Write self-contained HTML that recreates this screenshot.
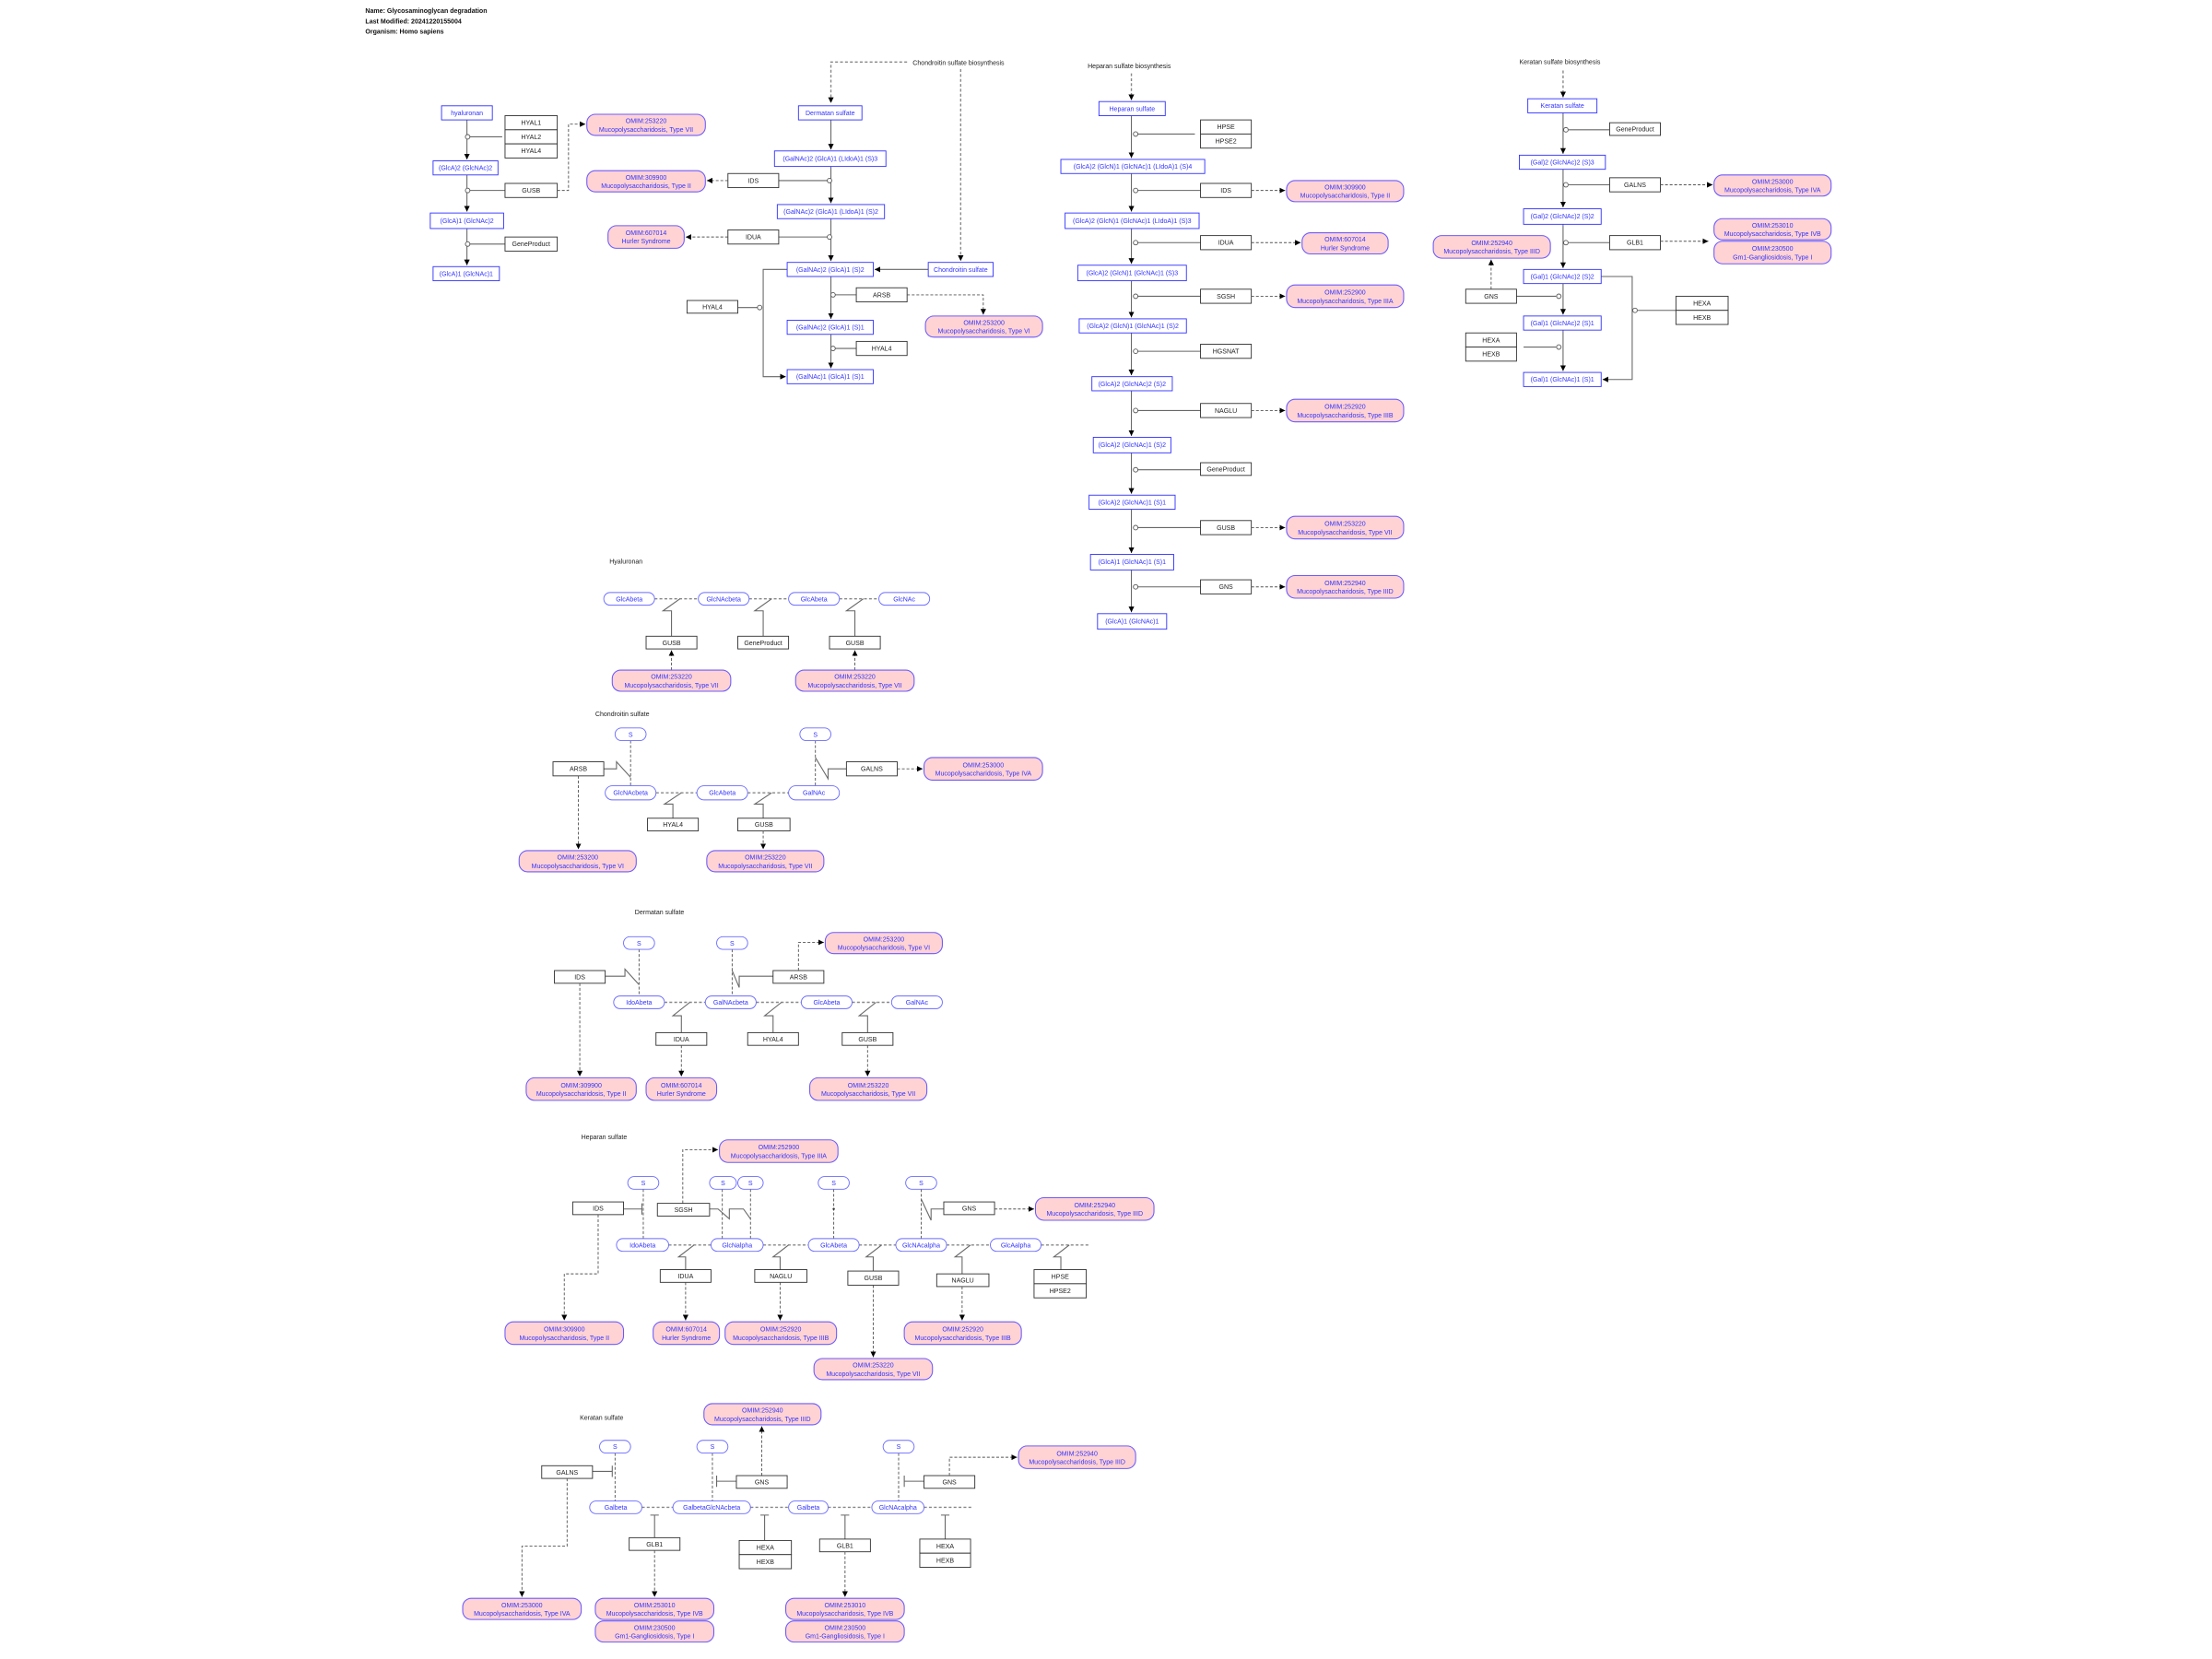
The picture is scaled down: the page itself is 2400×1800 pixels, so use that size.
<!DOCTYPE html>
<html><head><meta charset="utf-8"><style>
html,body{margin:0;padding:0;background:#fff}
svg{display:block}
text{font-family:"Liberation Sans",sans-serif;font-size:4.6px;text-anchor:middle}
.g{fill:#fff;stroke:#333;stroke-width:0.6}
.m{fill:#fff;stroke:#3333ff;stroke-width:0.6}
.d{fill:#ffd3d3;stroke:#6b5bff;stroke-width:0.7}
.p{fill:#fff;stroke:#6b6bff;stroke-width:0.6}
.tg{fill:#222}
.tb{fill:#3333ff}
.l{stroke:#666;stroke-width:0.7;fill:none}
.dl{stroke:#555;stroke-width:0.6;fill:none;stroke-dasharray:2,1.3}
.dd{stroke:#888;stroke-width:0.9;fill:none;stroke-dasharray:2,1.5}
.c{fill:#fff;stroke:#555;stroke-width:0.6}
.h{font-weight:bold;text-anchor:start;fill:#111;font-size:4.6px}
.lab{text-anchor:start;fill:#222}
</style></head><body>
<svg width="2400" height="1800" viewBox="0 0 1568 1176" preserveAspectRatio="none" xmlns="http://www.w3.org/2000/svg">
<defs>
<marker id="a" markerWidth="4" markerHeight="4" refX="4" refY="2" orient="auto" markerUnits="userSpaceOnUse"><path d="M0,0L4,2L0,4z" fill="#000"/></marker>
</defs>
<text class="h" x="259" y="9">Name: Glycosaminoglycan degradation</text>
<text class="h" x="259" y="16.5">Last Modified: 20241220155004</text>
<text class="h" x="259" y="24">Organism: Homo sapiens</text>

<!-- Panel 1 hyaluronan -->
<path class="l" d="M331,85V113" marker-end="url(#a)"/><path class="l" d="M331,124V150" marker-end="url(#a)"/><path class="l" d="M331,162V188" marker-end="url(#a)"/>
<path class="l" d="M333,97H356M333,135H358M333,173H358"/>
<circle class="c" cx="331.5" cy="97" r="1.6"/><circle class="c" cx="331.5" cy="135" r="1.6"/><circle class="c" cx="331.5" cy="173" r="1.6"/>
<rect class="m" x="313" y="75" width="36" height="10"/><text class="tb" x="331" y="81.6">hyaluronan</text>
<rect class="g" x="358" y="82" width="37" height="10"/><text class="tg" x="376.5" y="88.6">HYAL1</text>
<rect class="g" x="358" y="92" width="37" height="10"/><text class="tg" x="376.5" y="98.6">HYAL2</text>
<rect class="g" x="358" y="102" width="37" height="10"/><text class="tg" x="376.5" y="108.6">HYAL4</text>
<rect class="m" x="307" y="114" width="46" height="10"/><text class="tb" x="330" y="120.6">(GlcA)2 (GlcNAc)2</text>
<rect class="g" x="358" y="130" width="37" height="10"/><text class="tg" x="376.5" y="136.6">GUSB</text>
<rect class="m" x="305" y="151" width="52" height="11"/><text class="tb" x="331" y="158">(GlcA)1 (GlcNAc)2</text>
<rect class="g" x="358" y="168" width="37" height="10"/><text class="tg" x="376.5" y="174.6">GeneProduct</text>
<rect class="m" x="307" y="189" width="47" height="10"/><text class="tb" x="330.5" y="195.6">(GlcA)1 (GlcNAc)1</text>
<path class="dl" d="M395,135H403V88H415" marker-end="url(#a)"/>
<rect class="d" x="416" y="81" width="84" height="15" rx="6"/><text class="tb" x="458" y="87.3">OMIM:253220</text><text class="tb" x="458" y="93.3">Mucopolysaccharidosis, Type VII</text>
<rect class="d" x="416" y="121" width="84" height="15" rx="6"/><text class="tb" x="458" y="127.3">OMIM:309900</text><text class="tb" x="458" y="133.3">Mucopolysaccharidosis, Type II</text>
<rect class="d" x="431" y="160" width="54" height="16" rx="6"/><text class="tb" x="458" y="166.5">OMIM:607014</text><text class="tb" x="458" y="172.5">Hurler Syndrome</text>

<!-- Panel 2 dermatan -->
<text class="lab" x="647" y="46">Chondroitin sulfate biosynthesis</text>
<path class="dd" d="M643,44H589V73" marker-end="url(#a)"/>
<path class="dd" d="M681,49V185" marker-end="url(#a)"/>
<path class="l" d="M589,85V106" marker-end="url(#a)"/><path class="l" d="M589,118V144" marker-end="url(#a)"/><path class="l" d="M589,155V185" marker-end="url(#a)"/><path class="l" d="M589,196V226" marker-end="url(#a)"/><path class="l" d="M589,237V261" marker-end="url(#a)"/>
<path class="l" d="M658,191H620" marker-end="url(#a)"/>
<path class="l" d="M558,191H541V267H557" marker-end="url(#a)"/>
<path class="l" d="M552,128H587M552,168H587M592,209H607M592,247H607M523,218H537"/>
<circle class="c" cx="588" cy="128" r="1.6"/><circle class="c" cx="588" cy="168" r="1.6"/><circle class="c" cx="590.5" cy="209" r="1.6"/><circle class="c" cx="590.5" cy="247" r="1.6"/><circle class="c" cx="538.5" cy="218" r="1.6"/>
<rect class="m" x="566" y="75" width="45" height="10"/><text class="tb" x="588.5" y="81.6">Dermatan sulfate</text>
<rect class="m" x="549" y="107" width="79" height="11"/><text class="tb" x="588.5" y="114">(GalNAc)2 (GlcA)1 (LIdoA)1 (S)3</text>
<rect class="g" x="516" y="123" width="36" height="10"/><text class="tg" x="534" y="129.6">IDS</text>
<rect class="m" x="551" y="145" width="76" height="10"/><text class="tb" x="589" y="151.6">(GalNAc)2 (GlcA)1 (LIdoA)1 (S)2</text>
<rect class="g" x="516" y="163" width="36" height="10"/><text class="tg" x="534" y="169.6">IDUA</text>
<rect class="m" x="558" y="186" width="61" height="10"/><text class="tb" x="588.5" y="192.6">(GalNAc)2 (GlcA)1 (S)2</text>
<rect class="m" x="658" y="186" width="46" height="10"/><text class="tb" x="681" y="192.6">Chondroitin sulfate</text>
<rect class="g" x="607" y="204" width="36" height="10"/><text class="tg" x="625" y="210.6">ARSB</text>
<rect class="g" x="487" y="213" width="36" height="9"/><text class="tg" x="505" y="219.2">HYAL4</text>
<rect class="m" x="558" y="227" width="61" height="10"/><text class="tb" x="588.5" y="233.6">(GalNAc)2 (GlcA)1 (S)1</text>
<rect class="g" x="607" y="242" width="36" height="10"/><text class="tg" x="625" y="248.6">HYAL4</text>
<rect class="m" x="558" y="262" width="61" height="10"/><text class="tb" x="588.5" y="268.6">(GalNAc)1 (GlcA)1 (S)1</text>
<path class="dl" d="M516,128H501" marker-end="url(#a)"/><path class="dl" d="M516,168H486" marker-end="url(#a)"/>
<path class="dl" d="M643,209H697V223" marker-end="url(#a)"/>
<rect class="d" x="656" y="224" width="83" height="15" rx="6"/><text class="tb" x="697.5" y="230.3">OMIM:253200</text><text class="tb" x="697.5" y="236.3">Mucopolysaccharidosis, Type VI</text>

<!-- Panel 3 heparan -->
<text class="lab" x="771" y="48.5">Heparan sulfate biosynthesis</text>
<path class="dd" d="M802,52V71" marker-end="url(#a)"/>
<path class="l" d="M802,82V112" marker-end="url(#a)"/><path class="l" d="M802,123V150" marker-end="url(#a)"/><path class="l" d="M802,162V187" marker-end="url(#a)"/><path class="l" d="M802,199V225" marker-end="url(#a)"/><path class="l" d="M802,236V266" marker-end="url(#a)"/><path class="l" d="M802,277V309" marker-end="url(#a)"/><path class="l" d="M802,321V350" marker-end="url(#a)"/><path class="l" d="M802,361V392" marker-end="url(#a)"/><path class="l" d="M802,404V434" marker-end="url(#a)"/>
<path class="l" d="M806,95H847M806,135H851M806,172H851M806,210H851M806,249H851M806,291H851M806,333H851M806,374H851M806,416H851"/>
<circle class="c" cx="805" cy="95" r="1.6"/><circle class="c" cx="805" cy="135" r="1.6"/><circle class="c" cx="805" cy="172" r="1.6"/><circle class="c" cx="805" cy="210" r="1.6"/><circle class="c" cx="805" cy="249" r="1.6"/><circle class="c" cx="805" cy="291" r="1.6"/><circle class="c" cx="805" cy="333" r="1.6"/><circle class="c" cx="805" cy="374" r="1.6"/><circle class="c" cx="805" cy="416" r="1.6"/>
<rect class="m" x="779" y="72" width="47" height="10"/><text class="tb" x="802.5" y="78.6">Heparan sulfate</text>
<rect class="g" x="851" y="85" width="36" height="10"/><text class="tg" x="869" y="91.6">HPSE</text>
<rect class="g" x="851" y="95" width="36" height="10"/><text class="tg" x="869" y="101.6">HPSE2</text>
<rect class="m" x="752" y="113" width="102" height="10"/><text class="tb" x="803" y="119.6">(GlcA)2 (GlcN)1 (GlcNAc)1 (LIdoA)1 (S)4</text>
<rect class="g" x="851" y="130" width="36" height="10"/><text class="tg" x="869" y="136.6">IDS</text>
<rect class="m" x="755" y="151" width="95" height="11"/><text class="tb" x="802.5" y="158">(GlcA)2 (GlcN)1 (GlcNAc)1 (LIdoA)1 (S)3</text>
<rect class="g" x="851" y="167" width="36" height="10"/><text class="tg" x="869" y="173.6">IDUA</text>
<rect class="m" x="764" y="188" width="77" height="11"/><text class="tb" x="802.5" y="195">(GlcA)2 (GlcN)1 (GlcNAc)1 (S)3</text>
<rect class="g" x="851" y="205" width="36" height="10"/><text class="tg" x="869" y="211.6">SGSH</text>
<rect class="m" x="765" y="226" width="76" height="10"/><text class="tb" x="803" y="232.6">(GlcA)2 (GlcN)1 (GlcNAc)1 (S)2</text>
<rect class="g" x="851" y="244" width="36" height="10"/><text class="tg" x="869" y="250.6">HGSNAT</text>
<rect class="m" x="774" y="267" width="57" height="10"/><text class="tb" x="802.5" y="273.6">(GlcA)2 (GlcNAc)2 (S)2</text>
<rect class="g" x="851" y="286" width="36" height="10"/><text class="tg" x="869" y="292.6">NAGLU</text>
<rect class="m" x="775" y="310" width="55" height="11"/><text class="tb" x="802.5" y="317">(GlcA)2 (GlcNAc)1 (S)2</text>
<rect class="g" x="851" y="328" width="36" height="9"/><text class="tg" x="869" y="334.2">GeneProduct</text>
<rect class="m" x="772" y="351" width="61" height="10"/><text class="tb" x="802.5" y="357.6">(GlcA)2 (GlcNAc)1 (S)1</text>
<rect class="g" x="851" y="369" width="36" height="10"/><text class="tg" x="869" y="375.6">GUSB</text>
<rect class="m" x="773" y="393" width="59" height="11"/><text class="tb" x="802.5" y="400">(GlcA)1 (GlcNAc)1 (S)1</text>
<rect class="g" x="851" y="411" width="36" height="10"/><text class="tg" x="869" y="417.6">GNS</text>
<rect class="m" x="778" y="435" width="49" height="11"/><text class="tb" x="802.5" y="442">(GlcA)1 (GlcNAc)1</text>
<path class="dl" d="M887,135H911" marker-end="url(#a)"/><path class="dl" d="M887,172H922" marker-end="url(#a)"/><path class="dl" d="M887,210H911" marker-end="url(#a)"/><path class="dl" d="M887,291H911" marker-end="url(#a)"/><path class="dl" d="M887,374H911" marker-end="url(#a)"/><path class="dl" d="M887,416H911" marker-end="url(#a)"/>
<rect class="d" x="912" y="128" width="83" height="15" rx="6"/><text class="tb" x="953.5" y="134.3">OMIM:309900</text><text class="tb" x="953.5" y="140.3">Mucopolysaccharidosis, Type II</text>
<rect class="d" x="923" y="165" width="61" height="15" rx="6"/><text class="tb" x="953.5" y="171.3">OMIM:607014</text><text class="tb" x="953.5" y="177.3">Hurler Syndrome</text>
<rect class="d" x="912" y="202" width="83" height="16" rx="6"/><text class="tb" x="953.5" y="208.8">OMIM:252900</text><text class="tb" x="953.5" y="214.8">Mucopolysaccharidosis, Type IIIA</text>
<rect class="d" x="912" y="283" width="83" height="16" rx="6"/><text class="tb" x="953.5" y="289.8">OMIM:252920</text><text class="tb" x="953.5" y="295.8">Mucopolysaccharidosis, Type IIIB</text>
<rect class="d" x="912" y="366" width="83" height="16" rx="6"/><text class="tb" x="953.5" y="372.8">OMIM:253220</text><text class="tb" x="953.5" y="378.8">Mucopolysaccharidosis, Type VII</text>
<rect class="d" x="912" y="408" width="83" height="16" rx="6"/><text class="tb" x="953.5" y="414.8">OMIM:252940</text><text class="tb" x="953.5" y="420.8">Mucopolysaccharidosis, Type IIID</text>

<!-- Panel 4 keratan -->
<text class="lab" x="1077" y="45.5">Keratan sulfate biosynthesis</text>
<path class="dd" d="M1108,50V69" marker-end="url(#a)"/>
<path class="l" d="M1108,80V109" marker-end="url(#a)"/><path class="l" d="M1108,120V147" marker-end="url(#a)"/><path class="l" d="M1108,159V190" marker-end="url(#a)"/><path class="l" d="M1108,201V223" marker-end="url(#a)"/><path class="l" d="M1108,234V263" marker-end="url(#a)"/>
<path class="l" d="M1135,196H1157V269H1136" marker-end="url(#a)"/>
<path class="l" d="M1112,92H1141M1112,131H1141M1112,172H1141M1075,210H1103M1080,246H1103M1161,220H1188"/>
<circle class="c" cx="1110" cy="92" r="1.6"/><circle class="c" cx="1110" cy="131" r="1.6"/><circle class="c" cx="1110" cy="172" r="1.6"/><circle class="c" cx="1105" cy="210" r="1.6"/><circle class="c" cx="1105" cy="246" r="1.6"/><circle class="c" cx="1159" cy="220" r="1.6"/>
<rect class="m" x="1083" y="70" width="49" height="10"/><text class="tb" x="1107.5" y="76.6">Keratan sulfate</text>
<rect class="g" x="1141" y="87" width="36" height="9"/><text class="tg" x="1159" y="93.2">GeneProduct</text>
<rect class="m" x="1077" y="110" width="61" height="10"/><text class="tb" x="1107.5" y="116.6">(Gal)2 (GlcNAc)2 (S)3</text>
<rect class="g" x="1141" y="126" width="36" height="10"/><text class="tg" x="1159" y="132.6">GALNS</text>
<rect class="m" x="1080" y="148" width="55" height="11"/><text class="tb" x="1107.5" y="155">(Gal)2 (GlcNAc)2 (S)2</text>
<rect class="g" x="1141" y="167" width="36" height="10"/><text class="tg" x="1159" y="173.6">GLB1</text>
<rect class="m" x="1080" y="191" width="55" height="10"/><text class="tb" x="1107.5" y="197.6">(Gal)1 (GlcNAc)2 (S)2</text>
<rect class="g" x="1039" y="205" width="36" height="10"/><text class="tg" x="1057" y="211.6">GNS</text>
<rect class="g" x="1188" y="210" width="37" height="10"/><text class="tg" x="1206.5" y="216.6">HEXA</text>
<rect class="g" x="1188" y="220" width="37" height="10"/><text class="tg" x="1206.5" y="226.6">HEXB</text>
<rect class="m" x="1080" y="224" width="55" height="10"/><text class="tb" x="1107.5" y="230.6">(Gal)1 (GlcNAc)2 (S)1</text>
<rect class="g" x="1039" y="236" width="36" height="10"/><text class="tg" x="1057" y="242.6">HEXA</text>
<rect class="g" x="1039" y="246" width="36" height="10"/><text class="tg" x="1057" y="252.6">HEXB</text>
<rect class="m" x="1080" y="264" width="55" height="10"/><text class="tb" x="1107.5" y="270.6">(Gal)1 (GlcNAc)1 (S)1</text>
<path class="dl" d="M1177,131H1214" marker-end="url(#a)"/><path class="dl" d="M1177,171H1211" marker-end="url(#a)"/><path class="dl" d="M1057,205V184" marker-end="url(#a)"/>
<rect class="d" x="1215" y="124" width="83" height="15" rx="6"/><text class="tb" x="1256.5" y="130.3">OMIM:253000</text><text class="tb" x="1256.5" y="136.3">Mucopolysaccharidosis, Type IVA</text>
<rect class="d" x="1215" y="155" width="83" height="15" rx="6"/><text class="tb" x="1256.5" y="161.3">OMIM:253010</text><text class="tb" x="1256.5" y="167.3">Mucopolysaccharidosis, Type IVB</text>
<rect class="d" x="1215" y="171" width="83" height="16" rx="6"/><text class="tb" x="1256.5" y="177.8">OMIM:230500</text><text class="tb" x="1256.5" y="183.8">Gm1-Gangliosidosis, Type I</text>
<rect class="d" x="1016" y="167" width="83" height="16" rx="6"/><text class="tb" x="1057.5" y="173.8">OMIM:252940</text><text class="tb" x="1057.5" y="179.8">Mucopolysaccharidosis, Type IIID</text>

<!-- Hyaluronan lower -->
<text class="lab" x="432" y="399.5">Hyaluronan</text>
<path class="dd" d="M464,424.5H495M531,424.5H559M595,424.5H623"/>
<path class="l" d="M476,451V433H470L482,424.5M541,451V433H535L547,424.5M606,451V433H600L612,424.5"/>
<rect class="p" x="428" y="420" width="36" height="9" rx="4.5"/><text class="tb" x="446" y="426.2">GlcAbeta</text>
<rect class="p" x="495" y="420" width="36" height="9" rx="4.5"/><text class="tb" x="513" y="426.2">GlcNAcbeta</text>
<rect class="p" x="559" y="420" width="36" height="9" rx="4.5"/><text class="tb" x="577" y="426.2">GlcAbeta</text>
<rect class="p" x="623" y="420" width="36" height="9" rx="4.5"/><text class="tb" x="641" y="426.2">GlcNAc</text>
<rect class="g" x="458" y="451" width="36" height="9"/><text class="tg" x="476" y="457.2">GUSB</text>
<rect class="g" x="523" y="451" width="36" height="9"/><text class="tg" x="541" y="457.2">GeneProduct</text>
<rect class="g" x="588" y="451" width="36" height="9"/><text class="tg" x="606" y="457.2">GUSB</text>
<path class="dl" d="M476,475V461" marker-end="url(#a)"/><path class="dl" d="M606,475V461" marker-end="url(#a)"/>
<rect class="d" x="434" y="475" width="84" height="15" rx="6"/><text class="tb" x="476" y="481.3">OMIM:253220</text><text class="tb" x="476" y="487.3">Mucopolysaccharidosis, Type VII</text>
<rect class="d" x="564" y="475" width="84" height="15" rx="6"/><text class="tb" x="606" y="481.3">OMIM:253220</text><text class="tb" x="606" y="487.3">Mucopolysaccharidosis, Type VII</text>

<!-- Chondroitin lower -->
<text class="lab" x="422" y="507.5">Chondroitin sulfate</text>
<path class="dl" d="M447,525V557M578,525V557"/>
<path class="dd" d="M465,562H494M530,562H559"/>
<path class="l" d="M428,545H437V540L447,551M600,545H587V552L578,537M477,580V570H471L483,562M541,580V570H535L547,562"/>
<rect class="p" x="436" y="516" width="22" height="9" rx="4.5"/><text class="tb" x="447" y="522.2">S</text>
<rect class="p" x="567" y="516" width="22" height="9" rx="4.5"/><text class="tb" x="578" y="522.2">S</text>
<rect class="g" x="392" y="540" width="36" height="10"/><text class="tg" x="410" y="546.6">ARSB</text>
<rect class="g" x="600" y="540" width="36" height="10"/><text class="tg" x="618" y="546.6">GALNS</text>
<rect class="p" x="429" y="557" width="36" height="10" rx="5"/><text class="tb" x="447" y="563.6">GlcNAcbeta</text>
<rect class="p" x="494" y="557" width="36" height="10" rx="5"/><text class="tb" x="512" y="563.6">GlcAbeta</text>
<rect class="p" x="559" y="557" width="36" height="10" rx="5"/><text class="tb" x="577" y="563.6">GalNAc</text>
<rect class="g" x="459" y="580" width="36" height="9"/><text class="tg" x="477" y="586.2">HYAL4</text>
<rect class="g" x="523" y="580" width="37" height="9"/><text class="tg" x="541.5" y="586.2">GUSB</text>
<path class="dl" d="M636,545H654" marker-end="url(#a)"/><path class="dl" d="M410,550V602" marker-end="url(#a)"/><path class="dl" d="M541,589V602" marker-end="url(#a)"/>
<rect class="d" x="655" y="537" width="84" height="16" rx="6"/><text class="tb" x="697" y="543.8">OMIM:253000</text><text class="tb" x="697" y="549.8">Mucopolysaccharidosis, Type IVA</text>
<rect class="d" x="368" y="603" width="83" height="15" rx="6"/><text class="tb" x="409.5" y="609.3">OMIM:253200</text><text class="tb" x="409.5" y="615.3">Mucopolysaccharidosis, Type VI</text>
<rect class="d" x="501" y="603" width="83" height="15" rx="6"/><text class="tb" x="542.5" y="609.3">OMIM:253220</text><text class="tb" x="542.5" y="615.3">Mucopolysaccharidosis, Type VII</text>

<!-- Dermatan lower -->
<text class="lab" x="450" y="648">Dermatan sulfate</text>
<path class="dl" d="M453,673V706M519,673V706"/>
<path class="dd" d="M471,710.5H500M536,710.5H568M604,710.5H632"/>
<path class="l" d="M429,692H443V687L453,698M548,692H524V700L519,688M483,732V720H477L489,710.5M548,732V720H542L554,710.5M615,732V720H609L621,710.5"/>
<rect class="p" x="442" y="664" width="22" height="9" rx="4.5"/><text class="tb" x="453" y="670.2">S</text>
<rect class="p" x="508" y="664" width="22" height="9" rx="4.5"/><text class="tb" x="519" y="670.2">S</text>
<rect class="g" x="393" y="688" width="36" height="9"/><text class="tg" x="411" y="694.2">IDS</text>
<rect class="g" x="548" y="688" width="36" height="9"/><text class="tg" x="566" y="694.2">ARSB</text>
<path class="dl" d="M566,688V668H584" marker-end="url(#a)"/>
<rect class="d" x="585" y="661" width="83" height="15" rx="6"/><text class="tb" x="626.5" y="667.3">OMIM:253200</text><text class="tb" x="626.5" y="673.3">Mucopolysaccharidosis, Type VI</text>
<rect class="p" x="435" y="706" width="36" height="9" rx="4.5"/><text class="tb" x="453" y="712.2">IdoAbeta</text>
<rect class="p" x="500" y="706" width="36" height="9" rx="4.5"/><text class="tb" x="518" y="712.2">GalNAcbeta</text>
<rect class="p" x="568" y="706" width="36" height="9" rx="4.5"/><text class="tb" x="586" y="712.2">GlcAbeta</text>
<rect class="p" x="632" y="706" width="36" height="9" rx="4.5"/><text class="tb" x="650" y="712.2">GalNAc</text>
<rect class="g" x="465" y="732" width="36" height="9"/><text class="tg" x="483" y="738.2">IDUA</text>
<rect class="g" x="530" y="732" width="36" height="9"/><text class="tg" x="548" y="738.2">HYAL4</text>
<rect class="g" x="597" y="732" width="36" height="9"/><text class="tg" x="615" y="738.2">GUSB</text>
<path class="dl" d="M411,697V763" marker-end="url(#a)"/><path class="dl" d="M483,741V763" marker-end="url(#a)"/><path class="dl" d="M615,741V763" marker-end="url(#a)"/>
<rect class="d" x="373" y="764" width="78" height="16" rx="6"/><text class="tb" x="412" y="770.8">OMIM:309900</text><text class="tb" x="412" y="776.8">Mucopolysaccharidosis, Type II</text>
<rect class="d" x="458" y="764" width="50" height="16" rx="6"/><text class="tb" x="483" y="770.8">OMIM:607014</text><text class="tb" x="483" y="776.8">Hurler Syndrome</text>
<rect class="d" x="574" y="764" width="83" height="16" rx="6"/><text class="tb" x="615.5" y="770.8">OMIM:253220</text><text class="tb" x="615.5" y="776.8">Mucopolysaccharidosis, Type VII</text>

<!-- Heparan lower -->
<text class="lab" x="412" y="807.5">Heparan sulfate</text>
<path class="dl" d="M456,843V878M512,843V878M532,843V878M591,843V878M653,843V878"/>
<path class="dd" d="M474,882.5H504M541,882.5H573M609,882.5H635M671,882.5H702M738,882.5H772"/>
<path class="l" d="M442,857H455M455,853V861M503,857H509L517,864V857H527L532,864M669,857H660V865L653,850M486,900V891H481L492,882.5M553,900V891H548L559,882.5M619,901V891H614L625,882.5M682,903V891H677L688,882.5M752,900V891H747L758,882.5"/>
<circle cx="591" cy="857" r="0.8" fill="#333"/>
<rect class="d" x="510" y="808" width="84" height="16" rx="6"/><text class="tb" x="552" y="814.8">OMIM:252900</text><text class="tb" x="552" y="820.8">Mucopolysaccharidosis, Type IIIA</text>
<path class="dl" d="M484,853V815H509" marker-end="url(#a)"/>
<rect class="p" x="445" y="834" width="22" height="9" rx="4.5"/><text class="tb" x="456" y="840.2">S</text>
<rect class="p" x="503" y="834" width="19" height="9" rx="4.5"/><text class="tb" x="512.5" y="840.2">S</text>
<rect class="p" x="523" y="834" width="18" height="9" rx="4.5"/><text class="tb" x="532" y="840.2">S</text>
<rect class="p" x="580" y="834" width="22" height="9" rx="4.5"/><text class="tb" x="591" y="840.2">S</text>
<rect class="p" x="642" y="834" width="22" height="9" rx="4.5"/><text class="tb" x="653" y="840.2">S</text>
<rect class="g" x="406" y="852" width="36" height="9"/><text class="tg" x="424" y="858.2">IDS</text>
<rect class="g" x="466" y="853" width="37" height="9"/><text class="tg" x="484.5" y="859.2">SGSH</text>
<rect class="g" x="669" y="852" width="36" height="9"/><text class="tg" x="687" y="858.2">GNS</text>
<path class="dl" d="M705,857H733" marker-end="url(#a)"/>
<rect class="d" x="734" y="849" width="84" height="16" rx="6"/><text class="tb" x="776" y="855.8">OMIM:252940</text><text class="tb" x="776" y="861.8">Mucopolysaccharidosis, Type IIID</text>
<rect class="p" x="437" y="878" width="37" height="9" rx="4.5"/><text class="tb" x="455.5" y="884.2">IdoAbeta</text>
<rect class="p" x="504" y="878" width="37" height="9" rx="4.5"/><text class="tb" x="522.5" y="884.2">GlcNalpha</text>
<rect class="p" x="573" y="878" width="36" height="9" rx="4.5"/><text class="tb" x="591" y="884.2">GlcAbeta</text>
<rect class="p" x="635" y="878" width="36" height="9" rx="4.5"/><text class="tb" x="653" y="884.2">GlcNAcalpha</text>
<rect class="p" x="702" y="878" width="36" height="9" rx="4.5"/><text class="tb" x="720" y="884.2">GlcAalpha</text>
<rect class="g" x="468" y="900" width="36" height="9"/><text class="tg" x="486" y="906.2">IDUA</text>
<rect class="g" x="535" y="900" width="37" height="9"/><text class="tg" x="553.5" y="906.2">NAGLU</text>
<rect class="g" x="601" y="901" width="36" height="10"/><text class="tg" x="619" y="907.6">GUSB</text>
<rect class="g" x="664" y="903" width="37" height="9"/><text class="tg" x="682.5" y="909.2">NAGLU</text>
<rect class="g" x="733" y="900" width="37" height="10"/><text class="tg" x="751.5" y="906.6">HPSE</text>
<rect class="g" x="733" y="910" width="37" height="10"/><text class="tg" x="751.5" y="916.6">HPSE2</text>
<path class="dl" d="M424,861V903H400V936" marker-end="url(#a)"/><path class="dl" d="M486,909V936" marker-end="url(#a)"/><path class="dl" d="M553,909V936" marker-end="url(#a)"/><path class="dl" d="M619,911V962" marker-end="url(#a)"/><path class="dl" d="M682,912V936" marker-end="url(#a)"/>
<rect class="d" x="358" y="937" width="84" height="16" rx="6"/><text class="tb" x="400" y="943.8">OMIM:309900</text><text class="tb" x="400" y="949.8">Mucopolysaccharidosis, Type II</text>
<rect class="d" x="463" y="937" width="47" height="16" rx="6"/><text class="tb" x="486.5" y="943.8">OMIM:607014</text><text class="tb" x="486.5" y="949.8">Hurler Syndrome</text>
<rect class="d" x="514" y="937" width="79" height="16" rx="6"/><text class="tb" x="553.5" y="943.8">OMIM:252920</text><text class="tb" x="553.5" y="949.8">Mucopolysaccharidosis, Type IIIB</text>
<rect class="d" x="641" y="937" width="83" height="16" rx="6"/><text class="tb" x="682.5" y="943.8">OMIM:252920</text><text class="tb" x="682.5" y="949.8">Mucopolysaccharidosis, Type IIIB</text>
<rect class="d" x="577" y="963" width="84" height="15" rx="6"/><text class="tb" x="619" y="969.3">OMIM:253220</text><text class="tb" x="619" y="975.3">Mucopolysaccharidosis, Type VII</text>

<!-- Keratan lower -->
<text class="lab" x="411" y="1006.5">Keratan sulfate</text>
<rect class="d" x="499" y="995" width="83" height="15" rx="6"/><text class="tb" x="540.5" y="1001.3">OMIM:252940</text><text class="tb" x="540.5" y="1007.3">Mucopolysaccharidosis, Type IIID</text>
<path class="dl" d="M540,1046V1011" marker-end="url(#a)"/>
<path class="dl" d="M436,1030V1064M505,1030V1064M637,1030V1064"/>
<path class="dd" d="M455,1068.5H477M532,1068.5H559M587,1068.5H618M655,1068.5H690"/>
<path class="l" d="M420,1043H434M434,1039V1047M522,1050H508M508,1046V1054M655,1050H641M641,1046V1054M464,1090V1074M461,1074H467M542,1092V1074M539,1074H545M599,1091V1074M596,1074H602M670,1091V1074M667,1074H673"/>
<rect class="p" x="425" y="1021" width="22" height="9" rx="4.5"/><text class="tb" x="436" y="1027.2">S</text>
<rect class="p" x="494" y="1021" width="22" height="9" rx="4.5"/><text class="tb" x="505" y="1027.2">S</text>
<rect class="p" x="626" y="1021" width="22" height="9" rx="4.5"/><text class="tb" x="637" y="1027.2">S</text>
<rect class="g" x="384" y="1039" width="36" height="9"/><text class="tg" x="402" y="1045.2">GALNS</text>
<rect class="g" x="522" y="1046" width="36" height="9"/><text class="tg" x="540" y="1052.2">GNS</text>
<rect class="g" x="655" y="1046" width="36" height="9"/><text class="tg" x="673" y="1052.2">GNS</text>
<path class="dl" d="M673,1046V1033H721" marker-end="url(#a)"/>
<rect class="d" x="722" y="1025" width="83" height="16" rx="6"/><text class="tb" x="763.5" y="1031.8">OMIM:252940</text><text class="tb" x="763.5" y="1037.8">Mucopolysaccharidosis, Type IIID</text>
<rect class="p" x="418" y="1064" width="37" height="9" rx="4.5"/><text class="tb" x="436.5" y="1070.2">Galbeta</text>
<rect class="p" x="477" y="1064" width="55" height="9" rx="4.5"/><text class="tb" x="504.5" y="1070.2">GalbetaGlcNAcbeta</text>
<rect class="p" x="559" y="1064" width="28" height="9" rx="4.5"/><text class="tb" x="573" y="1070.2">Galbeta</text>
<rect class="p" x="618" y="1064" width="37" height="9" rx="4.5"/><text class="tb" x="636.5" y="1070.2">GlcNAcalpha</text>
<rect class="g" x="446" y="1090" width="36" height="9"/><text class="tg" x="464" y="1096.2">GLB1</text>
<rect class="g" x="524" y="1092" width="37" height="10"/><text class="tg" x="542.5" y="1098.6">HEXA</text>
<rect class="g" x="524" y="1102" width="37" height="10"/><text class="tg" x="542.5" y="1108.6">HEXB</text>
<rect class="g" x="581" y="1091" width="36" height="9"/><text class="tg" x="599" y="1097.2">GLB1</text>
<rect class="g" x="652" y="1091" width="36" height="10"/><text class="tg" x="670" y="1097.6">HEXA</text>
<rect class="g" x="652" y="1101" width="36" height="10"/><text class="tg" x="670" y="1107.6">HEXB</text>
<path class="dl" d="M402,1048V1096H370V1132" marker-end="url(#a)"/><path class="dl" d="M464,1099V1132" marker-end="url(#a)"/><path class="dl" d="M599,1100V1132" marker-end="url(#a)"/>
<rect class="d" x="328" y="1133" width="84" height="15" rx="6"/><text class="tb" x="370" y="1139.3">OMIM:253000</text><text class="tb" x="370" y="1145.3">Mucopolysaccharidosis, Type IVA</text>
<rect class="d" x="422" y="1133" width="84" height="15" rx="6"/><text class="tb" x="464" y="1139.3">OMIM:253010</text><text class="tb" x="464" y="1145.3">Mucopolysaccharidosis, Type IVB</text>
<rect class="d" x="422" y="1149" width="84" height="15" rx="6"/><text class="tb" x="464" y="1155.3">OMIM:230500</text><text class="tb" x="464" y="1161.3">Gm1-Gangliosidosis, Type I</text>
<rect class="d" x="557" y="1133" width="84" height="15" rx="6"/><text class="tb" x="599" y="1139.3">OMIM:253010</text><text class="tb" x="599" y="1145.3">Mucopolysaccharidosis, Type IVB</text>
<rect class="d" x="557" y="1149" width="84" height="15" rx="6"/><text class="tb" x="599" y="1155.3">OMIM:230500</text><text class="tb" x="599" y="1161.3">Gm1-Gangliosidosis, Type I</text>
</svg>
</body></html>
